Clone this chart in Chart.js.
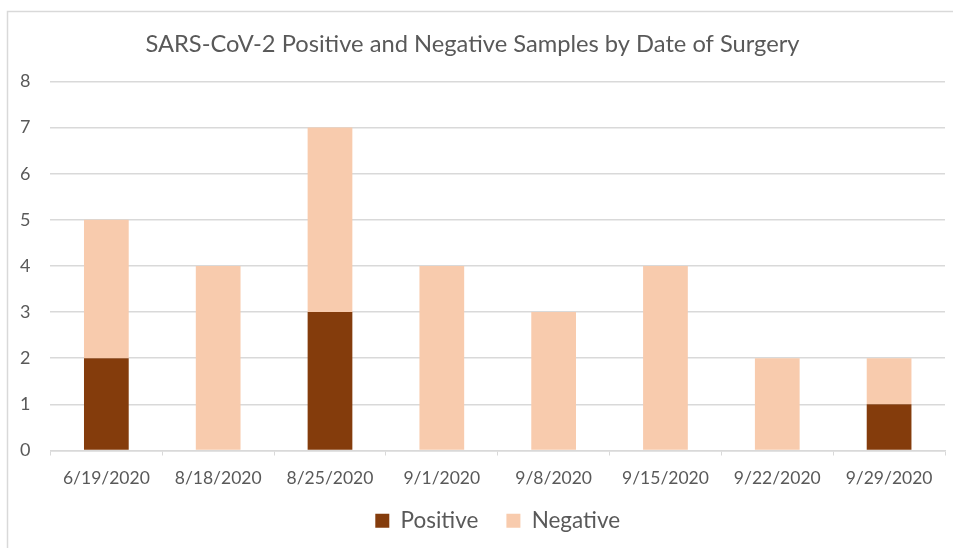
<!DOCTYPE html>
<html>
<head>
<meta charset="utf-8">
<script src="https://cdn.jsdelivr.net/npm/chart.js@4.4.1/dist/chart.umd.min.js"></script>
<style>
  html, body { margin: 0; padding: 0; background: #fff; }
  #wrap { width: 953px; height: 548px; }
</style>
</head>
<body>
<div id="wrap"><canvas id="surgeryChart"></canvas></div>
<script>
const dates = ["6/19/2020", "8/18/2020", "8/25/2020", "9/1/2020", "9/8/2020", "9/15/2020", "9/22/2020", "9/29/2020"];
const positive = [2, 0, 3, 0, 0, 0, 0, 1];
const negative = [3, 4, 4, 4, 3, 4, 2, 1];
const yTicks = [0, 1, 2, 3, 4, 5, 6, 7, 8];

const textGray = "#595959";
const lineGray = "#d9d9d9";

// light frame round the whole chart, like the Excel chart area
const frame = {
  id: "frame",
  beforeDraw(chart) {
    const c = chart.ctx;
    c.save();
    c.strokeStyle = "#d9d9d9";
    c.lineWidth = 1.5;
    c.strokeRect(7.5, 11.5, chart.width + 20, chart.height + 20);
    c.restore();
  }
};

// legend padding is wide for the gap between items; pull the row up a bit
const legendLift = {
  id: "legendLift",
  afterLayout(chart) {
    chart.legend.top -= 19;
    chart.legend.bottom -= 19;
  }
};

window.addEventListener("load", () => {
  const ctx = document.getElementById("surgeryChart").getContext("2d");

  new Chart(ctx, {
    type: "bar",
    data: {
      labels: dates,
      datasets: [
        { label: "Positive", data: positive, backgroundColor: "#843c0c" },
        { label: "Negative", data: negative, backgroundColor: "#f8cbad" }
      ]
    },
    options: {
      responsive: true,
      maintainAspectRatio: false,
      animation: false,
      layout: { padding: { left: 0, right: 8, top: 0, bottom: -13 } },
      datasets: { bar: { barPercentage: 0.4, categoryPercentage: 1 } },
      plugins: {
        title: {
          display: true,
          text: "SARS-CoV-2 Positive and Negative Samples by Date of Surgery",
          color: textGray,
          font: { family: "Lato", size: 23.7, weight: "normal" },
          padding: { top: 30, bottom: 23 }
        },
        legend: {
          position: "bottom",
          fullSize: false,
          labels: {
            color: textGray,
            font: { family: "Lato", size: 22.5 },
            boxWidth: 14,
            boxHeight: 14,
            padding: 28
          }
        },
        tooltip: { enabled: false }
      },
      scales: {
        x: {
          stacked: true,
          grid: { drawOnChartArea: false, drawTicks: true, tickLength: 5, color: lineGray },
          border: { color: lineGray, width: 1.5 },
          ticks: { color: textGray, font: { family: "Lato", size: 17.5 }, padding: 12, maxRotation: 0 }
        },
        y: {
          stacked: true,
          min: yTicks[0],
          max: yTicks[yTicks.length - 1],
          afterBuildTicks: axis => { axis.ticks = yTicks.map(v => ({ value: v })); },
          grid: { color: lineGray, lineWidth: 1.5, drawTicks: false },
          border: { display: false },
          ticks: { color: textGray, font: { family: "Lato", size: 18 }, padding: 20 }
        }
      }
    },
    plugins: [frame, legendLift]
  });
});
</script>
</body>
</html>
